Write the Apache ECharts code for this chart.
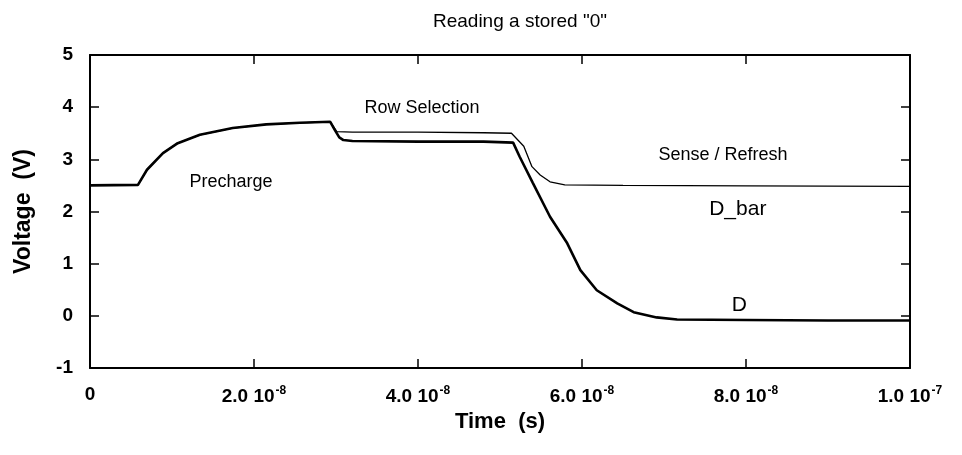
<!DOCTYPE html>
<html><head><meta charset="utf-8">
<script src="https://cdn.jsdelivr.net/npm/echarts@6/dist/echarts.min.js"></script>
<style>html,body{margin:0;padding:0;background:#fff}#c{width:962px;height:455px}</style>
</head><body><div id="c"></div>
<script>
// time in ns (axis shows seconds)
const tD    = [0, 5.85, 6.95, 8.9, 10.7, 13.4, 17.4, 21.5, 25.6, 29.3, 29.9, 30.4, 30.9, 32, 40, 48, 51.6, 52.4, 54.0, 56.1, 58.2, 59.8, 61.8, 64.3, 66.3, 69.1, 71.6, 80, 90, 100];
const vD    = [2.5, 2.51, 2.8, 3.12, 3.31, 3.47, 3.6, 3.67, 3.7, 3.72, 3.55, 3.42, 3.37, 3.35, 3.34, 3.34, 3.32, 3.05, 2.55, 1.9, 1.39, 0.875, 0.49, 0.24, 0.07, -0.03, -0.07, -0.08, -0.09, -0.09];
const tDbar = [0, 5.85, 6.95, 8.9, 10.7, 13.4, 17.4, 21.5, 25.6, 29.3, 30.1, 32, 40, 48, 51.4, 52.9, 53.9, 54.9, 56.1, 57.9, 65, 80, 100];
const vDbar = [2.5, 2.51, 2.8, 3.12, 3.31, 3.47, 3.6, 3.67, 3.7, 3.72, 3.53, 3.52, 3.52, 3.51, 3.5, 3.25, 2.86, 2.7, 2.57, 2.51, 2.5, 2.49, 2.48];
const xTickLabels = {0: '0', 20: '2.0 10|-8', 40: '4.0 10|-8', 60: '6.0 10|-8', 80: '8.0 10|-8', 100: '1.0 10|-7'};
const annotations = [
  [17.2, 2.57, 'Precharge', 18],
  [40.5, 3.99, 'Row Selection', 18],
  [77.2, 3.09, 'Sense / Refresh', 18],
  [79.0, 2.05, 'D_bar', 21],
  [79.2, 0.2, 'D', 21]
];
const titleText = 'Reading a stored "0"';

const chart = echarts.init(document.getElementById('c'), null, {renderer: 'canvas'});
const F = 'Liberation Sans, Arial, Helvetica, sans-serif';
const axisLine = {show: true, onZero: false, lineStyle: {color: '#000', width: 2}};
const tick = {show: true, inside: true, length: 9, lineStyle: {color: '#000', width: 1.5}};
chart.setOption({
  animation: false,
  backgroundColor: '#fff',
  title: {text: titleText, left: 515, top: 7, textAlign: 'center',
    textStyle: {fontFamily: F, fontSize: 19, fontWeight: 'normal', color: '#000'}},
  grid: {left: 90, right: 52, top: 55, bottom: 87},
  xAxis: [{
    type: 'value', min: 0, max: 100, interval: 20, position: 'bottom',
    name: 'Time  (s)', nameLocation: 'middle', nameGap: 32,
    nameTextStyle: {fontFamily: F, fontSize: 22, fontWeight: 'bold', color: '#000'},
    axisLine, axisTick: tick, splitLine: {show: false},
    axisLabel: {margin: 17, color: '#000', fontFamily: F, fontSize: 19, fontWeight: 'bold',
      formatter: v => { const s = xTickLabels[v]; if (s === undefined) return ''; const p = s.split('|'); return p.length > 1 ? '{b|' + p[0] + '}{e|' + p[1] + '}' : '{b|' + p[0] + '}'; },
      rich: {b: {fontFamily: F, fontSize: 19, fontWeight: 'bold', color: '#000'},
             e: {fontFamily: F, fontSize: 12, fontWeight: 'bold', color: '#000', padding: [0, 0, 11, 1]}}}
  }, {
    type: 'value', min: 0, max: 100, interval: 20, position: 'top',
    axisLine, axisTick: tick, axisLabel: {show: false}, splitLine: {show: false}
  }],
  yAxis: [{
    type: 'value', min: -1, max: 5, interval: 1, position: 'left',
    name: 'Voltage  (V)', nameLocation: 'middle', nameGap: 55, nameRotate: 90,
    nameTextStyle: {fontFamily: F, fontSize: 23, fontWeight: 'bold', color: '#000'},
    axisLine, axisTick: tick, splitLine: {show: false},
    axisLabel: {margin: 17, color: '#000', fontFamily: F, fontSize: 19, fontWeight: 'bold'}
  }, {
    type: 'value', min: -1, max: 5, interval: 1, position: 'right',
    axisLine, axisTick: tick, axisLabel: {show: false}, splitLine: {show: false}
  }],
  series: [
    {name: 'D_bar', type: 'line', data: tDbar.map((t, i) => [t, vDbar[i]]), showSymbol: false, symbol: 'none',
     lineStyle: {color: '#000', width: 1.3}},
    {name: 'D', type: 'line', data: tD.map((t, i) => [t, vD[i]]), showSymbol: false, symbol: 'none',
     lineStyle: {color: '#000', width: 2.6}},
    {name: 'labels', type: 'scatter', symbolSize: 0, silent: true, itemStyle: {opacity: 1},
     data: annotations.map(a => ({value: [a[0], a[1]], label: {show: true, position: 'inside', formatter: a[2],
       fontFamily: F, fontSize: a[3], fontWeight: 'normal', color: '#000', textBorderWidth: 0, opacity: 1}}))}
  ]
});
</script></body></html>
